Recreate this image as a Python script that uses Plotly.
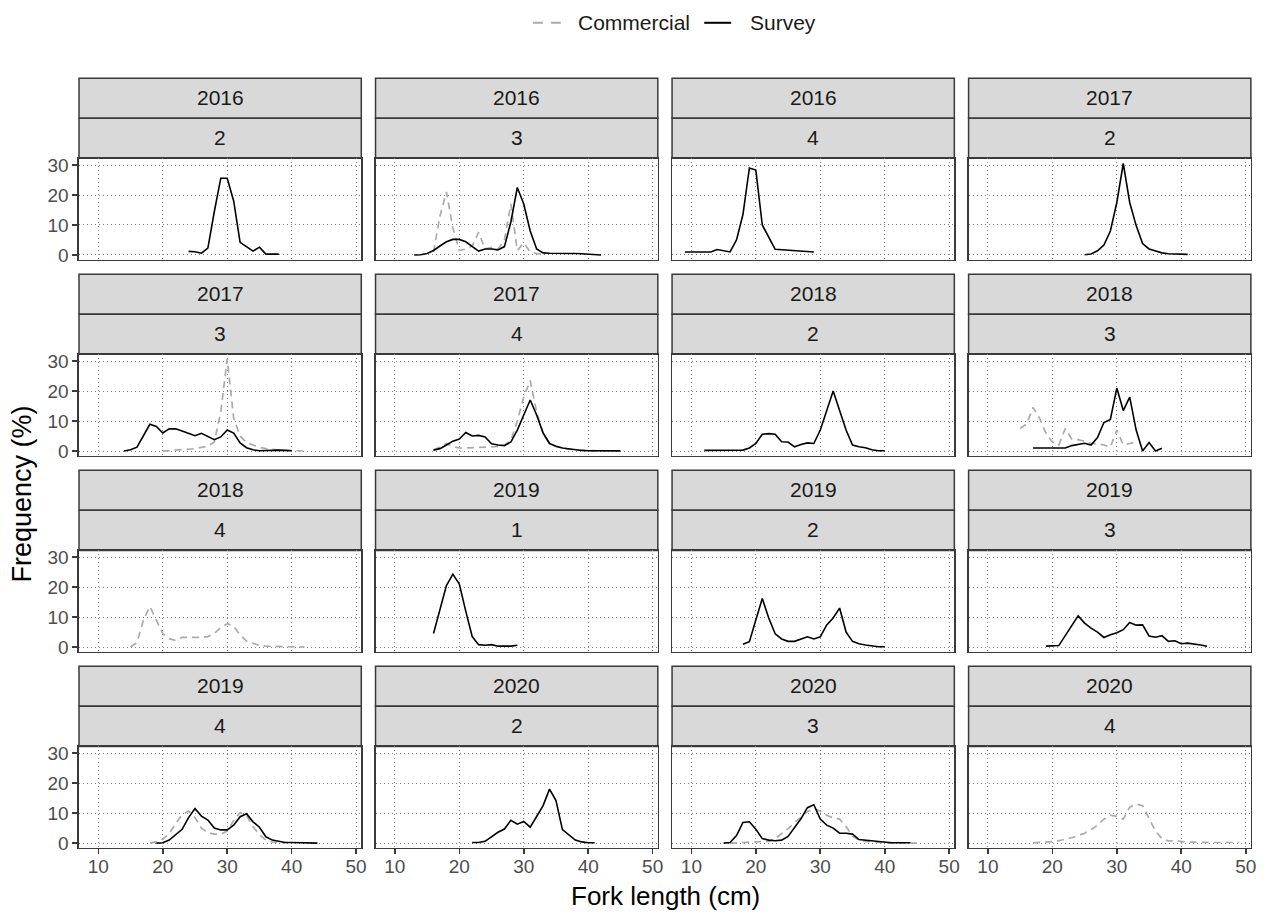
import plotly.graph_objects as go

W, H = 1276, 918
FONT = "Liberation Sans, Arial, sans-serif"


def px(x):
    return x / W


def py(y):
    return 1 - y / H


# ---------------- data (fork length cm, frequency %) ----------------
years = [2016, 2016, 2016, 2017, 2017, 2017, 2018, 2018,
         2018, 2019, 2019, 2019, 2019, 2020, 2020, 2020]
quarters = [2, 3, 4, 2, 3, 4, 2, 3, 4, 1, 2, 3, 4, 2, 3, 4]
series_names = ["Commercial", "Survey"]

# 2016 Q2
s_2016_2_len = [24, 25, 26, 27, 28, 29, 30, 31, 32, 33, 34, 35, 36, 37, 38]
s_2016_2_pct = [1.2, 1.1, 0.6, 2.3, 14.5, 25.6, 25.6, 18.0, 4.2, 2.6, 1.3, 2.6, 0.3, 0.3, 0.3]
c_2016_2_len = []
c_2016_2_pct = []
# 2016 Q3
s_2016_3_len = [13, 14, 15, 16, 17, 18, 19, 20, 21, 22, 23, 24, 25, 26, 27, 28, 29, 30, 31, 32,
                33, 34, 35, 36, 37, 38, 39, 40, 41, 42]
s_2016_3_pct = [0, 0.1, 0.5, 1.5, 3.0, 4.4, 5.2, 5.2, 4.4, 2.8, 1.3, 2.0, 2.0, 1.7, 2.8, 11.0, 22.5, 17.0, 8.0, 2.0,
                0.7, 0.6, 0.6, 0.7, 0.5, 0.5, 0.4, 0.3, 0.1, 0]
c_2016_3_len = [16, 17, 18, 19, 20, 21, 22, 23, 24, 25, 26, 27, 28, 29, 30, 31, 32, 33]
c_2016_3_pct = [1.0, 13.0, 21.0, 9.0, 1.5, 2.0, 3.0, 7.5, 2.0, 2.5, 2.0, 5.0, 17.0, 1.5, 4.0, 1.0, 0.5, 0.3]
# 2016 Q4
s_2016_4_len = [9, 10, 11, 12, 13, 14, 15, 16, 17, 18, 19, 20, 21, 22, 23, 29]
s_2016_4_pct = [1.0, 1.0, 1.0, 1.0, 1.0, 1.8, 1.4, 1.0, 5.0, 13.5, 29.0, 28.3, 10.0, 5.8, 1.9, 1.0]
c_2016_4_len = []
c_2016_4_pct = []
# 2017 Q2
s_2017_2_len = [25, 26, 27, 28, 29, 30, 31, 32, 33, 34, 35, 36, 37, 38, 39, 40, 41]
s_2017_2_pct = [0.1, 0.3, 1.4, 3.3, 8.0, 17.5, 30.5, 17.5, 9.8, 3.8, 2.0, 1.4, 0.7, 0.4, 0.3, 0.2, 0.2]
c_2017_2_len = []
c_2017_2_pct = []
# 2017 Q3
s_2017_3_len = [14, 15, 16, 17, 18, 19, 20, 21, 22, 23, 24, 25, 26, 27, 28, 29, 30, 31, 32, 33,
                34, 35, 36, 37, 38, 39, 40]
s_2017_3_pct = [0, 0.4, 1.3, 5.0, 8.9, 8.2, 6.0, 7.4, 7.4, 6.7, 6.0, 5.1, 5.9, 4.9, 3.8, 4.7, 7.0, 6.0, 2.7, 1.1,
                0.4, 0.1, 0.2, 0.4, 0.3, 0.2, 0.1]
c_2017_3_len = [20, 21, 22, 23, 24, 25, 26, 27, 28, 29, 30, 31, 32, 33, 34, 35, 36, 37, 38, 39, 40, 41, 42]
c_2017_3_pct = [0, 0.1, 0.2, 0.4, 0.6, 0.8, 1.1, 1.6, 3.0, 13.0, 30.7, 11.0, 5.0, 2.8, 2.0, 1.2, 0.8, 0.5, 0.3,
                0.2, 0.1, 0.1, 0]
# 2017 Q4
s_2017_4_len = [16, 17, 18, 19, 20, 21, 22, 23, 24, 25, 26, 27, 28, 29, 30, 31, 32, 33, 34, 35,
                36, 37, 38, 39, 40, 41, 42, 43, 44, 45]
s_2017_4_pct = [0.3, 0.8, 2.0, 3.3, 4.0, 6.2, 5.0, 5.2, 4.7, 2.4, 2.0, 1.8, 3.0, 7.0, 12.0, 17.0, 12.0, 6.0, 2.5, 1.6,
                1.0, 0.7, 0.4, 0.2, 0.1, 0.1, 0.05, 0.05, 0.05, 0.05]
c_2017_4_len = [16, 17, 18, 19, 20, 21, 22, 23, 24, 25, 26, 27, 28, 29, 30, 31, 32, 33, 34, 35,
                36, 37, 38, 39, 40, 41, 42]
c_2017_4_pct = [0.3, 1.5, 2.5, 1.5, 1.0, 1.0, 1.1, 1.1, 1.2, 1.2, 1.5, 2.0, 3.5, 10.0, 18.0, 23.5, 13.0, 6.0, 2.5, 1.5,
                1.0, 0.6, 0.4, 0.2, 0.1, 0.1, 0]
# 2018 Q2
s_2018_2_len = [12, 13, 14, 15, 16, 17, 18, 19, 20, 21, 22, 23, 24, 25, 26, 27, 28, 29, 30, 31,
                32, 33, 34, 35, 36, 37, 38, 39, 40]
s_2018_2_pct = [0.2, 0.2, 0.2, 0.2, 0.1, 0.1, 0.3, 1.0, 2.5, 5.6, 5.8, 5.6, 3.1, 3.0, 1.4, 2.2, 2.7, 2.5, 7.0, 13.5,
                20.0, 13.5, 7.0, 2.0, 1.4, 1.1, 0.4, 0.1, 0.1]
c_2018_2_len = []
c_2018_2_pct = []
# 2018 Q3
s_2018_3_len = [17, 18, 19, 20, 21, 22, 23, 24, 25, 26, 27, 28, 29, 30, 31, 32, 33, 34, 35, 36, 37]
s_2018_3_pct = [1.0, 1.0, 1.0, 1.0, 1.0, 1.0, 1.8, 2.3, 2.6, 2.0, 4.5, 9.5, 10.5, 21.0, 13.5, 18.0, 7.0, 0, 2.8, 0, 0.9]
c_2018_3_len = [15, 16, 17, 18, 19, 20, 21, 22, 23, 24, 25, 26, 27, 28, 29, 30, 31, 32, 33]
c_2018_3_pct = [7.5, 9.0, 14.5, 11.0, 6.0, 3.0, 2.0, 7.5, 4.0, 3.8, 3.2, 2.6, 2.4, 2.0, 1.3, 7.0, 2.0, 2.6, 3.0]
# 2018 Q4
s_2018_4_len = []
s_2018_4_pct = []
c_2018_4_len = [15, 16, 17, 18, 19, 20, 21, 22, 23, 24, 25, 26, 27, 28, 29, 30, 31, 32, 33, 34,
                35, 36, 37, 38, 39, 40, 41, 42]
c_2018_4_pct = [0, 1.5, 9.0, 13.5, 9.0, 4.5, 2.8, 2.2, 3.2, 3.2, 3.3, 3.2, 3.5, 4.5, 6.5, 7.8, 7.0, 4.0, 2.0, 1.2,
                0.5, 0.3, 0.2, 0.1, 0.1, 0.1, 0.1, 0]
# 2019 Q1
s_2019_1_len = [16, 17, 18, 19, 20, 21, 22, 23, 24, 25, 26, 27, 28, 29]
s_2019_1_pct = [4.5, 12.5, 20.5, 24.3, 21.0, 12.0, 3.5, 0.8, 0.6, 0.8, 0.3, 0.3, 0.3, 0.6]
c_2019_1_len = []
c_2019_1_pct = []
# 2019 Q2
s_2019_2_len = [18, 19, 20, 21, 22, 23, 24, 25, 26, 27, 28, 29, 30, 31, 32, 33, 34, 35, 36, 37, 38, 39, 40]
s_2019_2_pct = [0.9, 1.8, 9.0, 16.2, 9.7, 4.4, 2.7, 1.9, 1.9, 2.6, 3.4, 2.7, 3.4, 7.4, 9.7, 13.0, 5.0, 1.9, 1.1, 0.7,
                0.3, 0.1, 0.1]
c_2019_2_len = []
c_2019_2_pct = []
# 2019 Q3
s_2019_3_len = [19, 20, 21, 22, 23, 24, 25, 26, 27, 28, 29, 30, 31, 32, 33, 34, 35, 36, 37, 38,
                39, 40, 41, 42, 43, 44]
s_2019_3_pct = [0.3, 0.5, 0.5, 3.8, 7.1, 10.4, 8.0, 6.3, 5.0, 3.2, 4.1, 4.8, 5.8, 8.2, 7.3, 7.4, 3.7, 3.3, 3.8, 1.9,
                2.1, 1.1, 1.3, 1.1, 0.7, 0.3]
c_2019_3_len = []
c_2019_3_pct = []
# 2019 Q4
s_2019_4_len = [19, 20, 21, 22, 23, 24, 25, 26, 27, 28, 29, 30, 31, 32, 33, 34, 35, 36, 37, 38,
                39, 40, 41, 42, 43, 44]
s_2019_4_pct = [0, 0.1, 1.0, 2.8, 4.6, 8.5, 11.5, 9.0, 7.7, 5.0, 4.4, 4.4, 6.0, 8.8, 9.8, 7.1, 5.3, 2.1, 1.0, 0.6,
                0.2, 0.2, 0.2, 0.2, 0.1, 0]
c_2019_4_len = [18, 19, 20, 21, 22, 23, 24, 25, 26, 27, 28, 29, 30, 31, 32, 33, 34, 35, 36, 37, 38, 39]
c_2019_4_pct = [0, 0.5, 1.3, 3.2, 6.5, 9.5, 10.7, 8.5, 5.0, 3.5, 3.0, 3.0, 4.0, 7.5, 10.2, 9.2, 5.5, 2.8, 1.0, 0.3,
                0.1, 0]
# 2020 Q2
s_2020_2_len = [22, 23, 24, 25, 26, 27, 28, 29, 30, 31, 32, 33, 34, 35, 36, 37, 38, 39, 40, 41]
s_2020_2_pct = [0.2, 0.2, 0.6, 2.2, 3.6, 4.7, 7.6, 6.3, 7.2, 5.3, 9.1, 12.5, 18.0, 14.2, 4.5, 2.8, 1.0, 0.4, 0.1, 0.1]
c_2020_2_len = []
c_2020_2_pct = []
# 2020 Q3
s_2020_3_len = [15, 16, 17, 18, 19, 20, 21, 22, 23, 24, 25, 26, 27, 28, 29, 30, 31, 32, 33, 34,
                35, 36, 37, 38, 39, 40, 41, 42, 43, 44]
s_2020_3_pct = [0, 0.2, 2.5, 6.9, 7.1, 4.6, 1.5, 1.0, 0.8, 1.0, 2.2, 5.3, 8.1, 11.8, 12.8, 8.0, 6.0, 5.0, 3.3, 3.3,
                3.0, 1.2, 1.0, 0.7, 0.4, 0.2, 0.1, 0.1, 0.1, 0.1]
c_2020_3_len = [16, 17, 18, 19, 20, 21, 22, 23, 24, 25, 26, 27, 28, 29, 30, 31, 32, 33, 34, 35,
                36, 37, 38, 39, 40, 41, 42, 43, 44, 45]
c_2020_3_pct = [0, 0.1, 0.2, 0.2, 0.3, 0.4, 0.6, 1.5, 3.0, 4.8, 6.8, 8.8, 10.5, 11.5, 10.6, 9.3, 8.4, 8.0, 5.5, 2.3,
                1.0, 0.6, 0.4, 0.3, 0.2, 0.1, 0.1, 0.1, 0.1, 0]
# 2020 Q4
s_2020_4_len = []
s_2020_4_pct = []
c_2020_4_len = [17, 18, 19, 20, 21, 22, 23, 24, 25, 26, 27, 28, 29, 30, 31, 32, 33, 34, 35, 36,
                37, 38, 39, 40, 41, 42, 43, 44, 45, 46, 47, 48, 49]
c_2020_4_pct = [0.1, 0.2, 0.3, 0.5, 0.8, 1.2, 1.8, 2.5, 3.3, 4.5, 6.0, 8.0, 9.3, 8.9, 8.0, 12.0, 13.0, 12.5, 8.0, 4.0,
                1.5, 0.7, 0.8, 0.5, 0.3, 0.3, 0.2, 0.2, 0.2, 0.2, 0.2, 0.2, 0.2]

x_ticks = [10, 20, 30, 40, 50]
y_ticks = [0, 10, 20, 30]

survey = [
    (s_2016_2_len, s_2016_2_pct), (s_2016_3_len, s_2016_3_pct), (s_2016_4_len, s_2016_4_pct),
    (s_2017_2_len, s_2017_2_pct), (s_2017_3_len, s_2017_3_pct), (s_2017_4_len, s_2017_4_pct),
    (s_2018_2_len, s_2018_2_pct), (s_2018_3_len, s_2018_3_pct), (s_2018_4_len, s_2018_4_pct),
    (s_2019_1_len, s_2019_1_pct), (s_2019_2_len, s_2019_2_pct), (s_2019_3_len, s_2019_3_pct),
    (s_2019_4_len, s_2019_4_pct), (s_2020_2_len, s_2020_2_pct), (s_2020_3_len, s_2020_3_pct),
    (s_2020_4_len, s_2020_4_pct),
]
commercial = [
    (c_2016_2_len, c_2016_2_pct), (c_2016_3_len, c_2016_3_pct), (c_2016_4_len, c_2016_4_pct),
    (c_2017_2_len, c_2017_2_pct), (c_2017_3_len, c_2017_3_pct), (c_2017_4_len, c_2017_4_pct),
    (c_2018_2_len, c_2018_2_pct), (c_2018_3_len, c_2018_3_pct), (c_2018_4_len, c_2018_4_pct),
    (c_2019_1_len, c_2019_1_pct), (c_2019_2_len, c_2019_2_pct), (c_2019_3_len, c_2019_3_pct),
    (c_2019_4_len, c_2019_4_pct), (c_2020_2_len, c_2020_2_pct), (c_2020_3_len, c_2020_3_pct),
    (c_2020_4_len, c_2020_4_pct),
]

# ---------------- layout geometry (page pixels) ----------------
col_left = [79.3, 377.0, 674.7, 972.4]
panel_w = 283.4
row_pitch = 198.2
strip_top0 = 75.0
strip_h = 40.5
plot_top0 = 156.0
plot_h = 102.4

X_RANGE = [7.0, 50.8]
Y_RANGE = [-1.535, 32.235]

COMM_COLOR = "#ABABAB"
SURV_COLOR = "#000000"
BORDER = "#3A3A3A"
GRID = "#808080"
COMM_DASH = "7px,5px"

fig = go.Figure()
layout = {}
shapes = []
annotations = []

for i in range(16):
    r, c = divmod(i, 4)
    k = i + 1
    xa = "x" if k == 1 else f"x{k}"
    ya = "y" if k == 1 else f"y{k}"
    x0 = col_left[c]
    x1 = x0 + panel_w
    pt = plot_top0 + r * row_pitch
    pb = pt + plot_h
    st = strip_top0 + r * row_pitch

    cx, cy = commercial[i]
    if cx:
        fig.add_trace(go.Scatter(
            x=cx, y=cy, mode="lines", xaxis=xa, yaxis=ya,
            line=dict(color=COMM_COLOR, width=1.7, dash=COMM_DASH),
            name=series_names[0], showlegend=False, hoverinfo="skip"))
    sx, sy = survey[i]
    if sx:
        fig.add_trace(go.Scatter(
            x=sx, y=sy, mode="lines", xaxis=xa, yaxis=ya,
            line=dict(color=SURV_COLOR, width=1.6),
            name=series_names[1], showlegend=False, hoverinfo="skip"))

    bottom = (r == 3)
    left = (c == 0)
    common = dict(
        ticklen=5, tickwidth=1.6, tickcolor=BORDER,
        tickfont=dict(family=FONT, size=19, color="#4D4D4D"),
        showgrid=True, gridcolor=GRID, gridwidth=1, griddash="1px,3px",
        zeroline=False, showline=True, mirror=True, linecolor=BORDER, linewidth=1.5,
        fixedrange=True)
    layout["xaxis" if k == 1 else f"xaxis{k}"] = dict(
        domain=[px(x0), px(x1)], anchor=ya, range=X_RANGE,
        tickvals=x_ticks, ticktext=[str(v) for v in x_ticks],
        showticklabels=bottom, ticks="outside" if bottom else "",
        ticklabelstandoff=-4, **common)
    layout["yaxis" if k == 1 else f"yaxis{k}"] = dict(
        domain=[py(pb), py(pt)], anchor=xa, range=Y_RANGE,
        tickvals=y_ticks, ticktext=[str(v) for v in y_ticks],
        showticklabels=left, ticks="outside" if left else "", **common)

    # facet strips (year on top, quarter below)
    for j, txt in enumerate([str(years[i]), str(quarters[i])]):
        y_top = st + j * strip_h
        y_bot = y_top + strip_h
        shapes.append(dict(type="rect", xref="paper", yref="paper",
                           x0=px(x0), x1=px(x1), y0=py(y_bot), y1=py(y_top),
                           fillcolor="#D9D9D9", line=dict(color=BORDER, width=1.5),
                           layer="below"))
        annotations.append(dict(text=txt, xref="paper", yref="paper",
                                x=px((x0 + x1) / 2), y=py(y_top + strip_h / 2 - 1),
                                xanchor="center", yanchor="middle", showarrow=False,
                                font=dict(family=FONT, size=21, color="#1A1A1A")))

# legend drawn as keys + labels at the top centre
LEG_Y = 19
shapes.append(dict(type="line", xref="paper", yref="paper",
                   x0=px(535), x1=px(563), y0=py(LEG_Y), y1=py(LEG_Y),
                   line=dict(color=COMM_COLOR, width=2, dash="10px,8px")))
shapes.append(dict(type="line", xref="paper", yref="paper",
                   x0=px(707), x1=px(734), y0=py(LEG_Y), y1=py(LEG_Y),
                   line=dict(color=SURV_COLOR, width=2)))
annotations.append(dict(text=series_names[0], xref="paper", yref="paper",
                        x=px(578), y=py(LEG_Y), xanchor="left", yanchor="middle", showarrow=False,
                        font=dict(family=FONT, size=21, color="#1A1A1A")))
annotations.append(dict(text=series_names[1], xref="paper", yref="paper",
                        x=px(751), y=py(LEG_Y), xanchor="left", yanchor="middle", showarrow=False,
                        font=dict(family=FONT, size=21, color="#1A1A1A")))

annotations.append(dict(text="Fork length (cm)", xref="paper", yref="paper",
                        x=px(668.5), y=py(902),
                        xanchor="center", yanchor="middle", showarrow=False,
                        font=dict(family=FONT, size=26, color="#000000")))
annotations.append(dict(text="Frequency (%)", xref="paper", yref="paper",
                        x=px(22), y=py(495), textangle=-90,
                        xanchor="center", yanchor="middle", showarrow=False,
                        font=dict(family=FONT, size=27, color="#000000")))

fig.update_layout(
    width=W, height=H,
    margin=dict(l=0, r=0, t=0, b=0),
    paper_bgcolor="white", plot_bgcolor="white",
    font=dict(family=FONT, size=15, color="#1A1A1A"),
    shapes=shapes, annotations=annotations,
    showlegend=False,
    **layout,
)

fig.write_html(
    "out.html",
    config={"displayModeBar": False, "staticPlot": True},
    post_script="document.body.style.margin='0px';document.body.style.padding='0px';"
                "document.body.style.overflow='hidden';",
)
